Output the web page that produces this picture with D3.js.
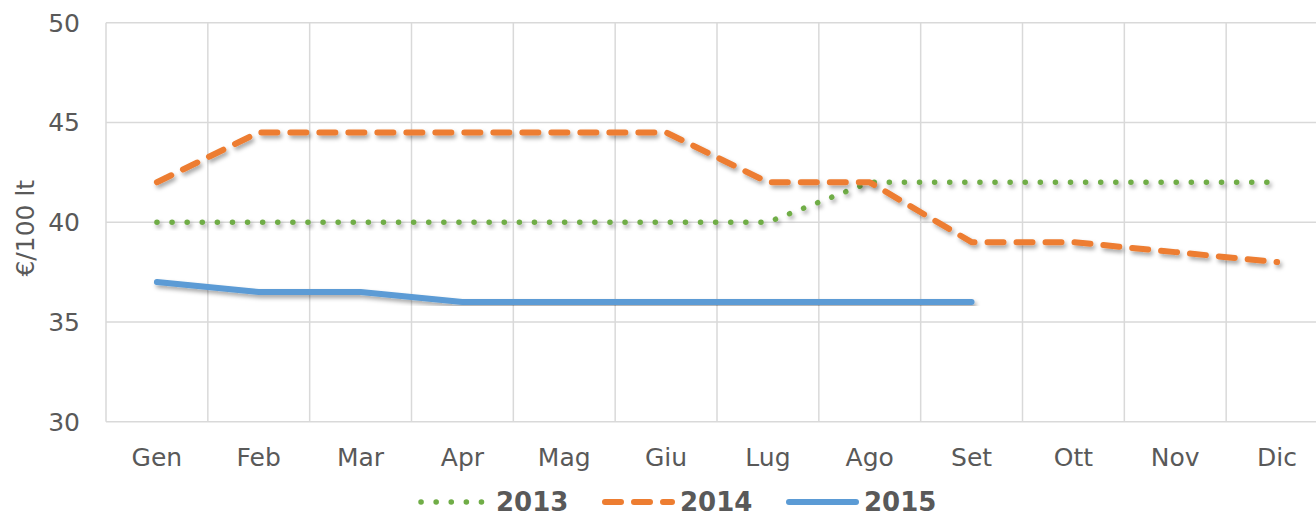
<!DOCTYPE html>
<html>
<head>
<meta charset="utf-8">
<script src="https://cdn.jsdelivr.net/npm/d3@7"></script>
<style>
  body { margin: 0; background: #fff; }
  svg { display: block; font-family: Verdana, "DejaVu Sans", sans-serif; }
</style>
</head>
<body>
<div id="chart"></div>
<script>
const months = ["Gen", "Feb", "Mar", "Apr", "Mag", "Giu", "Lug", "Ago", "Set", "Ott", "Nov", "Dic"];
const yTicks = [30, 35, 40, 45, 50];
const seriesNames = ["2013", "2014", "2015"];
const values2013 = [40, 40, 40, 40, 40, 40, 40, 42, 42, 42, 42, 42];
const values2014 = [42, 44.5, 44.5, 44.5, 44.5, 44.5, 42, 42, 39, 39, 38.5, 38];
const values2015 = [37, 36.5, 36.5, 36, 36, 36, 36, 36, 36];

const width = 1316, height = 516;
const plot = { left: 106, top: 22.7, right: 1328, bottom: 421.7 };

const svg = d3.select("#chart").append("svg")
  .attr("width", width)
  .attr("height", height);

// ombra delle linee
const shadow = svg.append("defs").append("filter")
  .attr("id", "shadow")
  .attr("x", "-5%").attr("y", "-20%")
  .attr("width", "110%").attr("height", "140%");
shadow.append("feDropShadow")
  .attr("dx", 2).attr("dy", 3)
  .attr("stdDeviation", 2)
  .attr("flood-color", "#000")
  .attr("flood-opacity", 0.35);

const x = d3.scaleBand().domain(months).range([plot.left, plot.right]);
const y = d3.scaleLinear().domain([30, 50]).range([plot.bottom, plot.top]);

// griglia orizzontale
svg.append("g")
  .selectAll("line")
  .data(yTicks)
  .enter()
  .append("line")
  .attr("x1", plot.left)
  .attr("x2", plot.right)
  .attr("y1", d => y(d))
  .attr("y2", d => y(d))
  .attr("stroke", "#d9d9d9")
  .attr("stroke-width", 1.5);

// griglia verticale
svg.append("g")
  .selectAll("line")
  .data(months)
  .enter()
  .append("line")
  .attr("x1", d => x(d))
  .attr("x2", d => x(d))
  .attr("y1", plot.top)
  .attr("y2", plot.bottom)
  .attr("stroke", "#d9d9d9")
  .attr("stroke-width", 1.5);

// etichette asse y
svg.append("g")
  .selectAll("text")
  .data(yTicks)
  .enter()
  .append("text")
  .attr("x", 80)
  .attr("y", d => y(d))
  .attr("dy", "0.36em")
  .attr("text-anchor", "end")
  .attr("font-size", "25px")
  .attr("fill", "#595959")
  .text(d => d);

// etichette asse x
svg.append("g")
  .selectAll("text")
  .data(months)
  .enter()
  .append("text")
  .attr("x", d => x(d) + x.bandwidth() / 2)
  .attr("y", 466)
  .attr("text-anchor", "middle")
  .attr("font-size", "25px")
  .attr("fill", "#595959")
  .text(d => d);

svg.append("text")
  .attr("transform", `translate(34, ${(plot.top + plot.bottom) / 2 + 6}) rotate(-90)`)
  .attr("text-anchor", "middle")
  .attr("font-size", "25px")
  .attr("fill", "#595959")
  .text("€/100 lt");

const styles = {
  "2013": { color: "#70ad47", dash: "0.1,15", width: 5.5 },
  "2014": { color: "#ed7d31", dash: "16,13", width: 6 },
  "2015": { color: "#5b9bd5", dash: null, width: 6 }
};
const seriesData = { "2013": values2013, "2014": values2014, "2015": values2015 };

const line = d3.line()
  .x((d, i) => x(months[i]) + x.bandwidth() / 2)
  .y(d => y(d))
  .curve(d3.curveLinear);

seriesNames.forEach(name => {
  const s = styles[name];
  svg.append("path")
    .datum(seriesData[name])
    .attr("d", line)
    .attr("fill", "none")
    .attr("stroke", s.color)
    .attr("stroke-width", s.width)
    .attr("stroke-linecap", "round")
    .attr("stroke-linejoin", "round")
    .attr("stroke-dasharray", s.dash)
    .attr("filter", "url(#shadow)");
});

// legenda
const legend = svg.append("g")
  .selectAll("g")
  .data(seriesNames)
  .enter()
  .append("g")
  .attr("transform", (d, i) => `translate(${418 + i * 184}, 502)`);

legend.append("line")
  .attr("x1", 3)
  .attr("x2", d => d === "2013" ? 64 : 70)
  .attr("y1", 0)
  .attr("y2", 0)
  .attr("stroke", d => styles[d].color)
  .attr("stroke-width", d => styles[d].width)
  .attr("stroke-linecap", "round")
  .attr("stroke-dasharray", d => styles[d].dash);

legend.append("text")
  .attr("x", 78)
  .attr("y", 0)
  .attr("dy", "0.35em")
  .attr("font-size", "26px")
  .attr("font-weight", "bold")
  .attr("fill", "#595959")
  .text(d => d);
</script>
</body>
</html>
